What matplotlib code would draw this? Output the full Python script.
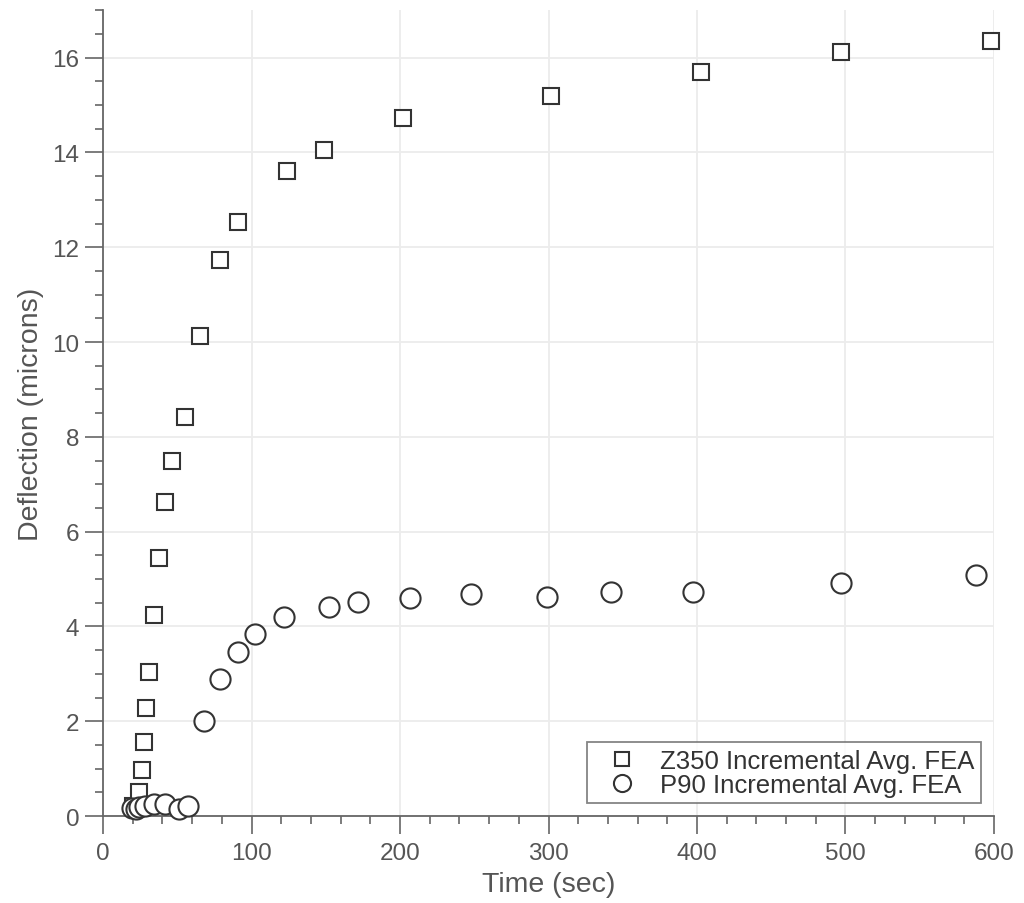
import matplotlib
matplotlib.use("Agg")
import matplotlib.pyplot as plt
from matplotlib.ticker import MultipleLocator

# Z350 incremental average FEA results
z350_time = [20, 22, 24, 26.5, 27.5, 29, 31, 34.5, 38, 42, 46.5, 55, 65.5, 78.5,
             91, 124, 149, 202, 301.5, 403, 497, 598]
z350_defl = [0.22, 0.18, 0.50, 0.98, 1.57, 2.28, 3.03, 4.25, 5.45, 6.62, 7.50,
             8.42, 10.13, 11.72, 12.54, 13.60, 14.05, 14.73, 15.18, 15.69, 16.11, 16.34]

# P90 incremental average FEA results
p90_time = [19.5, 22, 24, 28, 34, 42, 51.5, 57, 68, 78.5, 91, 102.5, 122, 152,
            172, 207, 247.5, 299, 342, 397.5, 497, 588]
p90_defl = [0.18, 0.15, 0.19, 0.22, 0.25, 0.25, 0.15, 0.22, 2.01, 2.89, 3.47,
            3.84, 4.20, 4.40, 4.51, 4.60, 4.68, 4.63, 4.72, 4.73, 4.92, 5.08]

series_labels = ["Z350 Incremental Avg. FEA", "P90 Incremental Avg. FEA"]

x_major = 100
x_minor = 20
y_major = 2
y_minor = 0.5

text_color = "#555555"
axis_color = "#666666"
marker_color = "#333333"

plt.rcParams["font.family"] = ["Liberation Sans", "DejaVu Sans"]

fig = plt.figure(figsize=(10.24, 9.04), dpi=100)
ax = fig.add_axes([0.1006, 0.0962, 0.8701, 0.8914])

ax.plot(z350_time, z350_defl, linestyle="none", marker="s", markersize=11.5,
        markerfacecolor="white", markeredgecolor=marker_color, markeredgewidth=1.5,
        label=series_labels[0], zorder=3, clip_on=False)
ax.plot(p90_time, p90_defl, linestyle="none", marker="o", markersize=14.5,
        markerfacecolor="white", markeredgecolor=marker_color, markeredgewidth=1.5,
        label=series_labels[1], zorder=3, clip_on=False)

ax.set_xlim(0, 600)
ax.set_ylim(0, 17)
ax.xaxis.set_major_locator(MultipleLocator(x_major))
ax.xaxis.set_minor_locator(MultipleLocator(x_minor))
ax.yaxis.set_major_locator(MultipleLocator(y_major))
ax.yaxis.set_minor_locator(MultipleLocator(y_minor))

ax.grid(True, which="major", color="#ececec", linewidth=1.3, zorder=0)
ax.set_axisbelow(True)

for side in ("top", "right"):
    ax.spines[side].set_visible(False)
for side in ("left", "bottom"):
    ax.spines[side].set_color(axis_color)
    ax.spines[side].set_linewidth(1.3)

ax.tick_params(which="major", direction="out", length=13, width=1.2,
               color=axis_color, labelsize=17.5, labelcolor=text_color)
ax.tick_params(axis="x", which="major", pad=6)
ax.tick_params(axis="y", which="major", pad=4)
ax.tick_params(which="minor", direction="out", length=6, width=1.2,
               color=axis_color)

ax.set_xlabel("Time (sec)", fontsize=20.5, color=text_color, labelpad=5)
ax.set_ylabel("Deflection (microns)", fontsize=20.5, color=text_color, labelpad=6)

leg = ax.legend(loc="lower right", fontsize=18.5, frameon=True, fancybox=False,
                borderaxespad=0.5, labelspacing=0.0, handletextpad=0.4,
                borderpad=0.25, markerscale=0.85, handlelength=2.2)
leg.get_frame().set_edgecolor(axis_color)
leg.get_frame().set_linewidth(1.3)
for t in leg.get_texts():
    t.set_color("#333333")

fig.savefig("out.png", dpi=100, facecolor="white")
